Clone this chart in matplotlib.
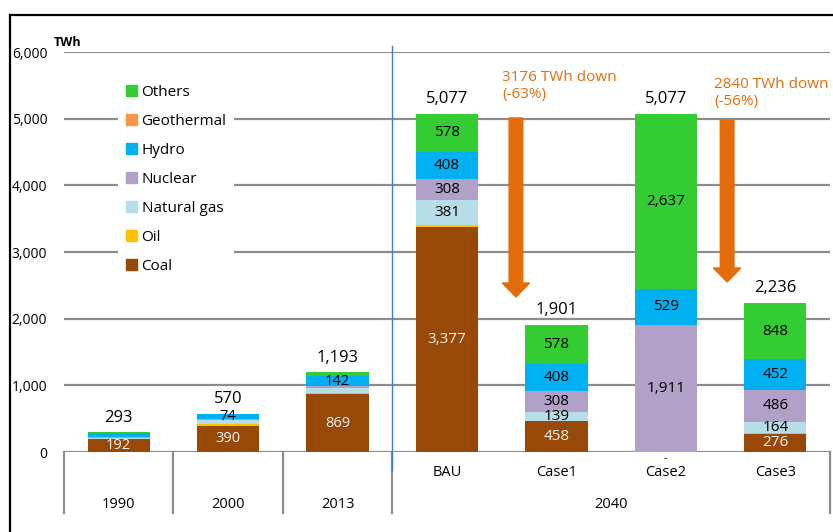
import matplotlib.pyplot as plt
from matplotlib.patches import Patch
from matplotlib.lines import Line2D

plt.rcParams['font.family'] = ['Open Sans', 'DejaVu Sans']

# power generation by source, TWh
categories = ['1990', '2000', '2013', 'BAU', 'Case1', 'Case2', 'Case3']
coal = [192, 390, 869, 3377, 458, 0, 276]
oil = [10, 27, 23, 25, 10, 0, 10]
natural_gas = [10, 56, 66, 381, 139, 0, 164]
nuclear = [6, 17, 34, 308, 308, 1911, 486]
hydro = [72, 74, 142, 408, 408, 529, 452]
geothermal = [0, 0, 0, 0, 0, 0, 0]
others = [3, 6, 59, 578, 578, 2637, 848]
totals = [293, 570, 1193, 5077, 1901, 5077, 2236]

series_names = ['Coal', 'Oil', 'Natural gas', 'Nuclear', 'Hydro', 'Geothermal', 'Others']
series_values = [coal, oil, natural_gas, nuclear, hydro, geothermal, others]
series_colors = ['#984807', '#FFC000', '#B7DEE8', '#B1A0C7', '#00B0F0', '#F79646', '#33CC33']
labelled = ['Coal', 'Natural gas', 'Nuclear', 'Hydro', 'Others']

group_labels = ['1990', '2000', '2013', '2040']
reductions = ['3176 TWh down\n(-63%)', '2840 TWh down\n(-56%)']

GRID = '#8C8C8C'
ARROW = '#E46C0A'

fig = plt.figure(figsize=(8.33, 5.32), dpi=100)
ax = fig.add_axes([64 / 833, 1 - 452 / 532, 766 / 833, 400 / 532])

x = list(range(len(categories)))
bottom = [0] * len(categories)
for name, vals, col in zip(series_names, series_values, series_colors):
    ax.bar(x, vals, 0.57, bottom=bottom, color=col, zorder=3)
    if name in labelled:
        for i, v in enumerate(vals):
            if v < 73:
                continue
            fs = 11 if i >= 3 else 10.5
            tc = '#F2F2F2' if name == 'Coal' else 'black'
            ax.text(i, bottom[i] + v / 2, '{:,}'.format(v), ha='center', va='center',
                    fontsize=fs, color=tc, zorder=4)
    bottom = [b + v for b, v in zip(bottom, vals)]

for i, t in enumerate(totals):
    ax.annotate('{:,}'.format(t), (i, t), xytext=(0, 5), textcoords='offset points',
                ha='center', va='bottom', fontsize=12)

# zero geothermal marker under Case2
ax.text(5, -20, '-', ha='center', va='top', fontsize=8)

# gridlines
for yv in range(0, 7000, 1000):
    ax.axhline(yv, color=GRID, lw=1.6, zorder=1)

ax.set_xlim(-0.5, 6.5)
ax.set_ylim(0, 6000)
ax.set_yticks(range(0, 7000, 1000))
ax.set_yticklabels(['{:,}'.format(v) for v in range(0, 7000, 1000)], fontsize=10)
ax.tick_params(axis='y', length=0, pad=12)
ax.set_xticks([])
for s in ax.spines.values():
    s.set_visible(False)

ax.text(-0.014, 1.0225, 'TWh', transform=ax.transAxes, fontsize=9,
        fontweight='bold', ha='left', va='center')

# category table under the axis
tr = ax.get_xaxis_transform()
for xs in [-0.5, 0.5, 1.5, 2.5, 6.5]:
    ax.plot([xs, xs], [0, -0.1525], transform=tr, color=GRID, lw=1.6, clip_on=False)
for i in range(3):
    ax.text(i, -0.1325, group_labels[i], transform=tr, ha='center', va='center', fontsize=10.5)
for i in range(3, 7):
    ax.text(i, -0.05, categories[i], transform=tr, ha='center', va='center', fontsize=10.5)
ax.text(4.5, -0.1325, group_labels[3], transform=tr, ha='center', va='center', fontsize=10.5)

# divider between history and outlook
ax.plot([2.5, 2.5], [-0.045, 1.015], transform=tr, color='#4A7EBB', lw=1.0,
        clip_on=False, zorder=5)

# reduction arrows
ax.arrow(3.63, 5010, 0, 2325 - 5010, width=0.125, head_width=0.25, head_length=210,
         length_includes_head=True, color=ARROW, zorder=4)
ax.arrow(5.56, 4980, 0, 2550 - 4980, width=0.125, head_width=0.25, head_length=210,
         length_includes_head=True, color=ARROW, zorder=4)
ax.text(3.505, 5730, reductions[0], color=ARROW, fontsize=11, ha='left', va='top',
        linespacing=1.2)
ax.text(5.44, 5625, reductions[1], color=ARROW, fontsize=11, ha='left', va='top',
        linespacing=1.2)

handles = [Patch(color=c, label=n) for n, c in zip(series_names, series_colors)][::-1]
leg = ax.legend(handles=handles, loc='upper left', bbox_to_anchor=(0.061, 0.956),
                fontsize=11, frameon=True, fancybox=False, borderpad=0.5,
                labelspacing=0.92, handlelength=0.72, handleheight=0.72,
                handletextpad=0.3)
leg.get_frame().set_edgecolor('none')
leg.get_frame().set_facecolor('white')
leg.get_frame().set_alpha(1)
leg.set_zorder(6)

# outer frame
fig.add_artist(Line2D([10 / 833, 10 / 833], [1 - 15 / 532, 0], color='black', lw=1.6))
fig.add_artist(Line2D([10 / 833, 1], [1 - 15 / 532, 1 - 15 / 532], color='black', lw=1.6))

fig.savefig('out.png', dpi=100)
